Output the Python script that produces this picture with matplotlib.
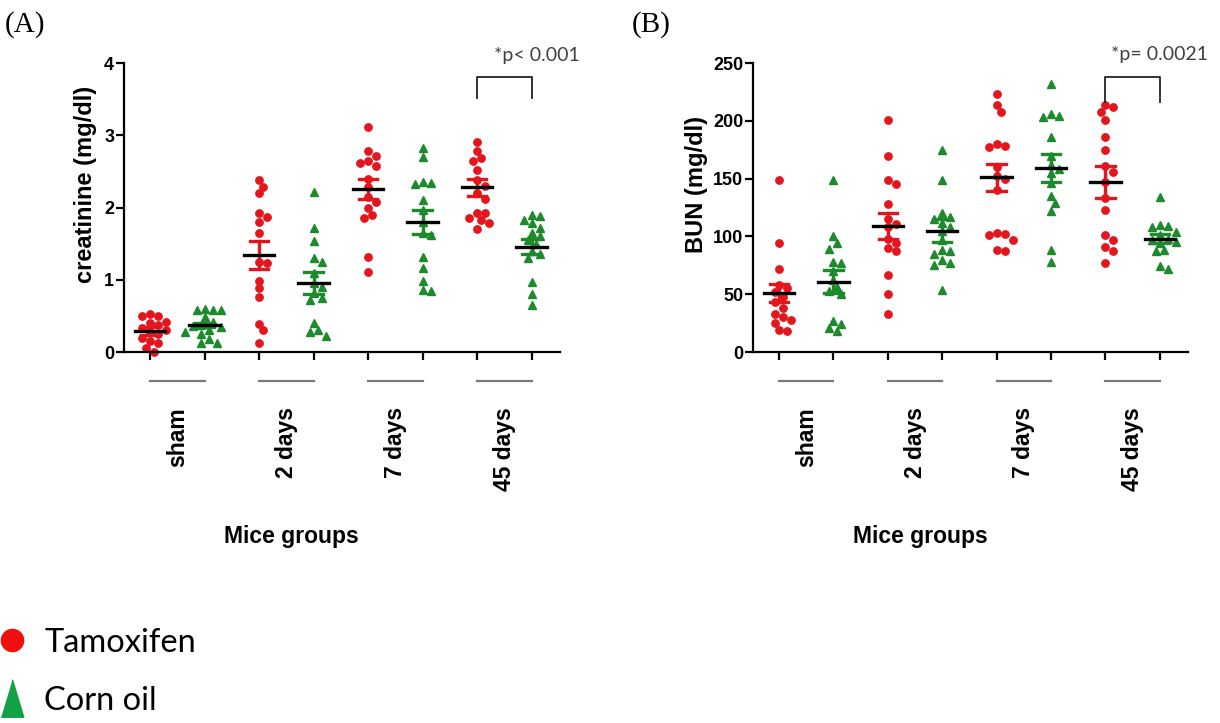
import numpy as np
import matplotlib
matplotlib.use("Agg")
import matplotlib.pyplot as plt
from matplotlib.lines import Line2D
from matplotlib import transforms

plt.rcParams['font.family'] = ['Liberation Sans', 'DejaVu Sans']

groups = ["sham", "2 days", "7 days", "45 days"]
series = ["Tamoxifen", "Corn oil"]

# creatinine (mg/dl), one list per group
creat_tam = [
    [0.52, 0.50, 0.50, 0.42, 0.40, 0.38, 0.33, 0.30, 0.28, 0.25, 0.20, 0.15, 0.12, 0.05, 0.00],
    [2.38, 2.29, 2.20, 1.92, 1.87, 1.80, 1.65, 1.25, 1.23, 0.99, 0.88, 0.76, 0.39, 0.30, 0.12],
    [3.11, 2.78, 2.72, 2.65, 2.62, 2.58, 2.40, 2.28, 2.15, 2.08, 2.00, 1.90, 1.85, 1.32, 1.11],
    [2.91, 2.78, 2.68, 2.64, 2.52, 2.38, 2.30, 2.20, 2.12, 1.93, 1.92, 1.85, 1.83, 1.78, 1.70],
]
creat_corn = [
    [0.60, 0.58, 0.58, 0.58, 0.48, 0.42, 0.38, 0.36, 0.35, 0.30, 0.28, 0.25, 0.18, 0.12, 0.12],
    [2.22, 1.72, 1.53, 1.30, 1.25, 1.10, 0.95, 0.90, 0.82, 0.75, 0.72, 0.40, 0.30, 0.28, 0.22],
    [2.82, 2.70, 2.35, 2.34, 2.33, 2.10, 1.97, 1.80, 1.65, 1.62, 1.32, 1.16, 0.99, 0.86, 0.85],
    [1.90, 1.88, 1.83, 1.78, 1.72, 1.65, 1.60, 1.55, 1.50, 1.40, 1.35, 1.30, 0.97, 0.81, 0.65],
]
creat_tam_mean = [0.29, 1.34, 2.26, 2.28]
creat_tam_sem = [0.05, 0.19, 0.14, 0.12]
creat_corn_mean = [0.37, 0.96, 1.80, 1.46]
creat_corn_sem = [0.03, 0.15, 0.17, 0.11]

# BUN (mg/dl)
bun_tam = [
    [149, 94, 72, 58, 55, 52, 48, 43, 38, 33, 30, 28, 25, 19, 18],
    [201, 170, 149, 145, 128, 115, 111, 108, 98, 94, 90, 87, 67, 50, 33],
    [223, 214, 208, 180, 178, 177, 160, 152, 150, 140, 103, 102, 101, 97, 88, 87],
    [214, 212, 208, 201, 186, 175, 161, 156, 147, 133, 123, 101, 97, 91, 87, 77],
]
bun_corn = [
    [149, 100, 94, 89, 78, 77, 70, 62, 56, 53, 50, 27, 24, 21, 18],
    [175, 149, 120, 117, 115, 112, 108, 105, 97, 88, 87, 85, 80, 77, 75, 54],
    [232, 206, 204, 203, 186, 170, 162, 158, 155, 146, 135, 129, 122, 88, 78],
    [134, 110, 109, 108, 104, 101, 98, 97, 95, 94, 88, 87, 74, 72],
]
bun_tam_mean = [51, 109, 151, 147]
bun_tam_sem = [8, 11, 12, 14]
bun_corn_mean = [61, 105, 159, 98]
bun_corn_sem = [10, 10, 12, 4]

RED = "#e3161d"
GREEN = "#1d8a2c"


def swarm_x(vals, x0, ax, step):
    # simple beeswarm: shift points sideways in pixel space until they don't overlap
    pts = ax.transData.transform(np.column_stack([np.full(len(vals), x0, dtype=float), vals]))
    placed = []
    for px, py in pts:
        for k in (0, 0.5, -0.5, 1, -1, 1.5, -1.5, 2, -2, 2.5, -2.5, 3, -3):
            cx = px + k * step
            if all((cx - qx) ** 2 + (py - qy) ** 2 >= 0.9 * step ** 2 for qx, qy in placed):
                break
        placed.append((cx, py))
    placed = np.array(placed)
    return ax.transData.inverted().transform(placed)[:, 0]


def panel(ax, tam, corn, tam_mean, tam_sem, corn_mean, corn_sem, ylim, yticks, ylabel, label_x,
          ptext, px, bracket):
    ax.set_xlim(-0.48, 7.52)
    ax.set_ylim(*ylim)
    for s in ("top", "right"):
        ax.spines[s].set_visible(False)
    for s in ("left", "bottom"):
        ax.spines[s].set_linewidth(1.6)
    ax.set_yticks(yticks)
    ax.set_xticks(range(8))
    ax.set_xticklabels([])
    ax.tick_params(axis="both", direction="out", length=5.5, width=1.6, labelsize=13, pad=1.5)
    for t in ax.get_yticklabels():
        t.set_fontweight("bold")

    for g in range(len(groups)):
        for j, (vals, mean, sem, color, marker, ms) in enumerate([
            (tam[g], tam_mean[g], tam_sem[g], RED, "o", 5.3),
            (corn[g], corn_mean[g], corn_sem[g], GREEN, "^", 5.5),
        ]):
            x0 = 2 * g + j
            xs = swarm_x(vals, x0, ax, 8)
            ax.plot(xs, vals, ls="none", marker=marker, ms=ms, color=color, mec=color, zorder=2, clip_on=False)
            ax.plot([x0, x0], [mean - sem, mean + sem], color=color, lw=2.4, zorder=3)
            for v in (mean - sem, mean + sem):
                ax.plot([x0 - 0.17, x0 + 0.17], [v, v], color=color, lw=2.4, zorder=3)
            ax.plot([x0 - 0.28, x0 + 0.28], [mean, mean], color="black", lw=2.4, zorder=4)

    trans = transforms.blended_transform_factory(ax.transData, ax.transAxes)
    for g, name in enumerate(groups):
        ax.plot([2 * g, 2 * g + 1], [-0.10, -0.10], color="#7a7a7a", lw=1.6, transform=trans, clip_on=False)
        ax.text(2 * g + 0.5, -0.19, name, rotation=90, ha="center", va="top", fontsize=16.5,
                fontweight="bold", transform=trans)
    ax.text(2.59, -0.64, "Mice groups", ha="center", va="center", fontsize=16.5, fontweight="bold",
            transform=trans)

    ax.set_ylabel(ylabel, fontsize=17, fontweight="bold")
    ax.yaxis.set_label_coords(label_x, 0.58)

    # significance bracket between the two 45-day groups
    x1, x2 = 6, 7
    y_low, y_top, y_text = bracket
    ax.plot([x1, x1, x2, x2], [y_low, y_top, y_top, y_low], color="#222222", lw=1.3, clip_on=False)
    ax.text(px, y_text, ptext, ha="center", va="center", fontsize=14, color="#404040",
            family=["Lato", "DejaVu Sans"], clip_on=False)


fig = plt.figure(figsize=(12.2, 7.23), dpi=100)
axA = fig.add_axes([0.1016, 0.5131, 0.3574, 0.3997])
axB = fig.add_axes([0.6172, 0.5131, 0.3566, 0.3997])

panel(axA, creat_tam, creat_corn, creat_tam_mean, creat_tam_sem, creat_corn_mean, creat_corn_sem,
      (0, 4), [0, 1, 2, 3, 4], "creatinine (mg/dl)", -0.062, "*p< 0.001", 7.1, (3.52, 3.81, 4.11))
panel(axB, bun_tam, bun_corn, bun_tam_mean, bun_tam_sem, bun_corn_mean, bun_corn_sem,
      (0, 250), [0, 50, 100, 150, 200, 250], "BUN (mg/dl)", -0.103, "*p= 0.0021", 7.0, (216, 238, 257))

fig.text(0.004, 0.985, "(A)", ha="left", va="top", fontsize=21, family=["Liberation Serif", "DejaVu Serif"])
fig.text(0.518, 0.985, "(B)", ha="left", va="top", fontsize=21, family=["Liberation Serif", "DejaVu Serif"])

tri = [(-0.6, -1), (0.6, -1), (0, 1)]
handles = [
    Line2D([], [], ls="none", marker="o", ms=16, color="#f01010"),
    Line2D([], [], ls="none", marker=tri, ms=27, color="#14a046"),
]
fig.legend(handles, series, loc="center left", bbox_to_anchor=(0, 0.071), frameon=False,
           prop={"family": ["Lato", "DejaVu Sans"], "size": 23.5}, handlelength=0.75,
           handletextpad=0.6, borderpad=0, borderaxespad=0, labelspacing=0.85)

fig.savefig("out.png", dpi=100)
